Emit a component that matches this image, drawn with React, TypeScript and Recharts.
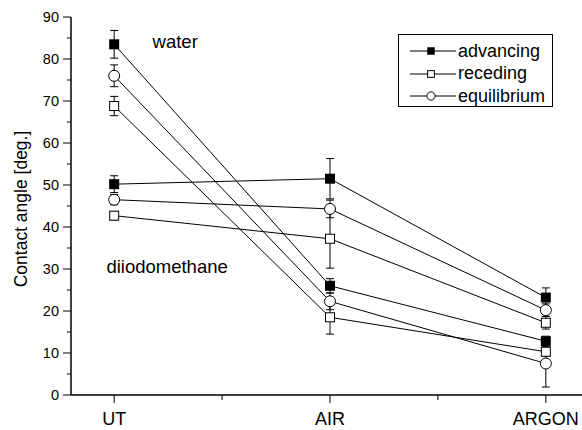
import { LineChart, Line, XAxis, YAxis, ErrorBar, Legend, ReferenceDot } from "recharts";

const categories = ["UT", "AIR", "ARGON"];
const xTicks = [0, 0.5, 1, 1.5, 2];
const yTicks = [0, 5, 10, 15, 20, 25, 30, 35, 40, 45, 50, 55, 60, 65, 70, 75, 80, 85, 90];

// water
const waterAdvancing = [83.5, 26.0, 12.8];
const waterAdvancingErr = [3.3, 1.7, 1.2];
const waterReceding = [68.8, 18.5, 10.3];
const waterRecedingErr = [2.3, 4.0, 1.0];
const waterEquilibrium = [76.0, 22.3, 7.5];
const waterEquilibriumErr = [2.6, 2.0, 5.6];

// diiodomethane
const diiodoAdvancing = [50.2, 51.5, 23.2];
const diiodoAdvancingErr = [2.0, 4.8, 2.3];
const diiodoReceding = [42.7, 37.2, 17.2];
const diiodoRecedingErr = [1.0, 7.0, 1.5];
const diiodoEquilibrium = [46.5, 44.3, 20.2];
const diiodoEquilibriumErr = [1.2, 2.1, 1.5];

const data = categories.map((c, i) => ({
  x: i,
  label: c,
  wa: waterAdvancing[i],
  waErr: waterAdvancingErr[i],
  wr: waterReceding[i],
  wrErr: waterRecedingErr[i],
  we: waterEquilibrium[i],
  weErr: waterEquilibriumErr[i],
  da: diiodoAdvancing[i],
  daErr: diiodoAdvancingErr[i],
  dr: diiodoReceding[i],
  drErr: diiodoRecedingErr[i],
  de: diiodoEquilibrium[i],
  deErr: diiodoEquilibriumErr[i],
}));

const FONT = "Arial, 'Liberation Sans', sans-serif";

// marker shapes; s = size scale (1 on the plot, smaller in the legend)
const FilledSquare = (props: any) => {
  const { cx, cy, index, s = 1 } = props;
  if (cx == null || cy == null) return <g key={index} />;
  const h = 5 * s;
  return <rect key={index} x={cx - h} y={cy - h} width={2 * h} height={2 * h} fill="#000" />;
};
const OpenSquare = (props: any) => {
  const { cx, cy, index, s = 1 } = props;
  if (cx == null || cy == null) return <g key={index} />;
  const h = 4.5 * s;
  return <rect key={index} x={cx - h} y={cy - h} width={2 * h} height={2 * h} fill="#fff" stroke="#000" strokeWidth={1} />;
};
const OpenCircle = (props: any) => {
  const { cx, cy, index, s = 1 } = props;
  if (cx == null || cy == null) return <g key={index} />;
  return <circle key={index} cx={cx} cy={cy} r={5.5 * s} fill="#fff" stroke="#000" strokeWidth={1} />;
};

const BottomTick = (props: any) => {
  const { x, y, payload } = props;
  const v = payload.value;
  const major = Number.isInteger(v);
  return (
    <g>
      <line x1={x} y1={y} x2={x} y2={y + (major ? 8 : 5)} stroke="#000" strokeWidth={1} />
      {major && (
        <text x={x} y={y + 30} textAnchor="middle" fontSize={18} fontFamily={FONT} fill="#000">
          {categories[v]}
        </text>
      )}
    </g>
  );
};

const TopTick = (props: any) => {
  const { x, y, payload } = props;
  const major = Number.isInteger(payload.value);
  return <line x1={x} y1={y} x2={x} y2={y + (major ? 8 : 4)} stroke="#000" strokeWidth={1} />;
};

const LeftTick = (props: any) => {
  const { x, y, payload } = props;
  const major = payload.value % 10 === 0;
  return (
    <g>
      <line x1={x} y1={y} x2={x - (major ? 8 : 4)} y2={y} stroke="#000" strokeWidth={1} />
      {major && (
        <text x={x - 12} y={y + 5} textAnchor="end" fontSize={14.5} fontFamily={FONT} fill="#000">
          {payload.value}
        </text>
      )}
    </g>
  );
};

const RightTick = (props: any) => {
  const { x, y, payload } = props;
  const major = payload.value % 10 === 0;
  return <line x1={x} y1={y} x2={x - (major ? 8 : 4)} y2={y} stroke="#000" strokeWidth={1} />;
};

const legendItems = [
  { name: "advancing", Marker: FilledSquare },
  { name: "receding", Marker: OpenSquare },
  { name: "equilibrium", Marker: OpenCircle },
];

const renderLegend = () => (
  <div style={{ border: "1px solid #000", background: "#fff", width: 155, height: 73, boxSizing: "border-box", paddingTop: 5 }}>
    {legendItems.map(({ name, Marker }) => (
      <div key={name} style={{ display: "flex", alignItems: "center", height: 22.5 }}>
        <svg width={48} height={22} style={{ marginLeft: 10 }}>
          <line x1={1} y1={11} x2={47} y2={11} stroke="#000" strokeWidth={1} />
          <Marker cx={22} cy={11} index={0} s={0.75} />
        </svg>
        <span style={{ fontFamily: FONT, fontSize: 18, color: "#000", marginLeft: 1 }}>{name}</span>
      </div>
    ))}
  </div>
);

const textLabel = (text: string) => (props: any) => {
  const { viewBox } = props;
  return (
    <text x={viewBox.x} y={viewBox.y + 6} fontSize={18.5} fontFamily={FONT} fill="#000" textAnchor="start">
      {text}
    </text>
  );
};

const series = [
  { key: "wa", Dot: FilledSquare },
  { key: "we", Dot: OpenCircle },
  { key: "wr", Dot: OpenSquare },
  { key: "da", Dot: FilledSquare },
  { key: "de", Dot: OpenCircle },
  { key: "dr", Dot: OpenSquare },
];

export default function App() {
  return (
    <div style={{ position: "absolute", left: 0, top: 0, width: 582, height: 430, overflow: "hidden", background: "#fff" }}>
      <LineChart width={600} height={430} data={data} margin={{ top: 17, right: 11, bottom: 5, left: 11 }}>
        <XAxis
          xAxisId="bottom"
          dataKey="x"
          type="number"
          domain={[-0.2, 2.2]}
          ticks={xTicks}
          interval={0}
          height={30}
          tickSize={0}
          tickMargin={0}
          tickLine={false}
          tick={<BottomTick />}
          axisLine={{ stroke: "#000", strokeWidth: 1.5 }}
          allowDataOverflow
        />
        <XAxis
          xAxisId="top"
          orientation="top"
          dataKey="x"
          type="number"
          domain={[-0.2, 2.2]}
          ticks={xTicks}
          interval={0}
          height={0}
          tickSize={0}
          tickMargin={0}
          tickLine={false}
          tick={<TopTick />}
          axisLine={{ stroke: "#000", strokeWidth: 1.5 }}
          allowDataOverflow
        />
        <YAxis
          yAxisId="left"
          type="number"
          domain={[0, 90]}
          ticks={yTicks}
          interval={0}
          width={60}
          tickSize={0}
          tickMargin={0}
          tickLine={false}
          tick={<LeftTick />}
          axisLine={{ stroke: "#000", strokeWidth: 1.5 }}
          label={(props: any) => {
            const vb = props.viewBox;
            const cx = 22;
            const cy = vb.y + vb.height / 2 + 3;
            return (
              <text x={cx} y={cy} transform={`rotate(-90, ${cx}, ${cy})`} textAnchor="middle" dominantBaseline="middle" fontSize={17.5} fontFamily={FONT} fill="#000">
                Contact angle [deg.]
              </text>
            );
          }}
        />
        <YAxis
          yAxisId="right"
          orientation="right"
          type="number"
          domain={[0, 90]}
          ticks={yTicks}
          interval={0}
          width={0}
          tickSize={0}
          tickMargin={0}
          tickLine={false}
          tick={<RightTick />}
          axisLine={{ stroke: "#000", strokeWidth: 1.5 }}
        />
        {series.map(({ key, Dot }) => (
          <Line
            key={key}
            xAxisId="bottom"
            yAxisId="left"
            dataKey={key}
            stroke="#000"
            strokeWidth={1}
            dot={(p: any) => <Dot {...p} />}
            activeDot={false}
            isAnimationActive={false}
          >
            <ErrorBar dataKey={`${key}Err`} direction="y" width={4} stroke="#000" strokeWidth={1} isAnimationActive={false} />
          </Line>
        ))}
        <ReferenceDot xAxisId="bottom" yAxisId="left" x={0.178} y={84} r={0} fill="none" stroke="none" label={textLabel("water")} />
        <ReferenceDot xAxisId="bottom" yAxisId="left" x={-0.036} y={30.5} r={0} fill="none" stroke="none" label={textLabel("diiodomethane")} />
        <Legend
          layout="vertical"
          align="center"
          verticalAlign="middle"
          content={renderLegend}
          wrapperStyle={{ position: "absolute", left: 398, top: 34, width: 155, height: 73 }}
        />
      </LineChart>
    </div>
  );
}
